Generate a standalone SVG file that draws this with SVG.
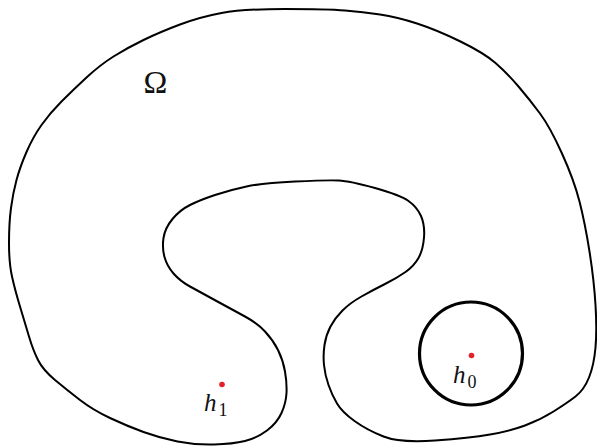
<svg xmlns="http://www.w3.org/2000/svg" width="597" height="446" viewBox="0 0 597 446">
<style>
.bd{fill:none;stroke:#000;stroke-width:2;stroke-linejoin:round}
.hole{fill:none;stroke:#000;stroke-width:3.2}
.pt{fill:#e4202a}
.lbl{font-family:"Liberation Serif","Times New Roman",serif;fill:#111}
.it{font-style:italic}
</style>
<rect width="597" height="446" fill="#fff"/>
<g id="domain">
<path class="bd" d="M214,444.5 Q233,444 245,441 Q257,438 267,430.5 Q277,423 281.5,413 Q286,403 286.5,393 Q287,383 285,371.5 Q283,360 278,350 Q273,340 265,331.5 Q257,323 245,316.5 Q233,310 216.5,301 Q200,292 190,286.5 Q180,281 173.5,273.5 Q167,266 164.5,257 Q162,248 163.5,238 Q165,228 172.5,219 Q180,210 190,205 Q200,200 215,195 Q230,190 246.5,186.5 Q263,183 295,181.5 Q327,180 338.5,180.5 Q350,181 375,188 Q400,195 408.5,201 Q417,207 421,216 Q425,225 424,237.5 Q423,250 418.5,258 Q414,266 405.5,272 Q397,278 385,284 Q373,290 361.5,296.5 Q350,303 342.5,310.5 Q335,318 330.5,326.5 Q326,335 324.5,345 Q323,355 324,365 Q325,375 328.5,385 Q332,395 337,403.5 Q342,412 354.5,421 Q367,430 383.5,436.5 Q400,443 435,440.5 Q470,438 490,434.5 Q510,431 525,425.5 Q540,420 553.5,411.5 Q567,403 575.5,396.5 Q584,390 589,377.5 Q594,365 595.5,347.5 Q597,330 595.5,305 Q594,280 589.5,251.5 Q585,223 579.5,201.5 Q574,180 562,153.5 Q550,127 540,113.5 Q530,100 518.5,86.5 Q507,73 495.5,63 Q484,53 460.5,41.5 Q437,30 417,23.5 Q397,17 380,14.5 Q363,12 345,10.5 Q327,9 285,9 Q243,9 221.5,13 Q200,17 180,24.5 Q160,32 143.5,40 Q127,48 113.5,56.5 Q100,65 86.5,77.5 Q73,90 61.5,101.5 Q50,113 41.5,125 Q33,137 26.5,152 Q20,167 16.5,180 Q13,193 11,208 Q9,223 9,243 Q9,263 12,276.5 Q15,290 20,306.5 Q25,323 29,336.5 Q33,350 38,360 Q43,370 55,380 Q67,390 80,400 Q93,410 110,418 Q127,426 143.5,432 Q160,438 177.5,441.5 Q195,445 214,444.5 Z"/>
<text class="lbl" x="155.5" y="93" font-size="32" text-anchor="middle">Ω</text>
</g>
<g id="hole-h0">
<circle class="hole" cx="471" cy="353.5" r="51.5"/>
<circle class="pt" cx="471.5" cy="355.5" r="2.8"/>
<text class="lbl" x="453" y="383" font-size="25"><tspan class="it">h</tspan><tspan font-size="18" dx="2" dy="5">0</tspan></text>
</g>
<g id="point-h1">
<circle class="pt" cx="222" cy="384.5" r="2.8"/>
<text class="lbl" x="204" y="411" font-size="25"><tspan class="it">h</tspan><tspan font-size="18" dx="2" dy="5">1</tspan></text>
</g>
</svg>
